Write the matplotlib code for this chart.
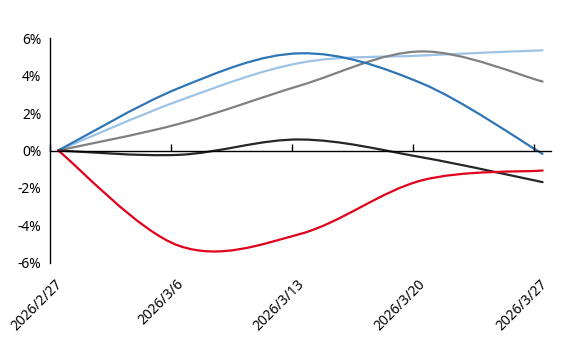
import matplotlib
matplotlib.use("Agg")
import matplotlib.pyplot as plt
import numpy as np
from matplotlib.path import Path
from matplotlib.patches import PathPatch
from matplotlib.transforms import offset_copy

plt.rcParams['font.family'] = ['Noto Sans', 'DejaVu Sans']

dates = ['2026/2/27', '2026/3/6', '2026/3/13', '2026/3/20', '2026/3/27']
days = [0, 7, 14, 21, 28]   # days since 2026/2/27

# weekly returns, %
dark_blue = [0.0, 3.35, 5.2, 3.6, -0.18]
light_blue = [0.0, 2.67, 4.69, 5.08, 5.36]
gray = [0.0, 1.43, 3.48, 5.3, 3.69]
black = [0.0, -0.23, 0.59, -0.36, -1.69]
red = [0.0, -5.1, -4.46, -1.6, -1.07]

series = [
    (light_blue, '#9DC3E6'),
    (gray, '#808080'),
    (dark_blue, '#2E75B6'),
    (black, '#262626'),
    (red, '#E0001B'),
]


def smooth_path(x, y):
    # excel-like smoothed line: cubic bezier with catmull-rom handles
    x = np.asarray(x, float)
    y = np.asarray(y, float)
    n = len(x)
    verts = [(x[0], y[0])]
    codes = [Path.MOVETO]
    for i in range(n - 1):
        p0 = i - 1 if i > 0 else i
        p3 = i + 2 if i + 2 < n else i + 1
        c1 = (x[i] + (x[i + 1] - x[p0]) / 6, y[i] + (y[i + 1] - y[p0]) / 6)
        c2 = (x[i + 1] - (x[p3] - x[i]) / 6, y[i + 1] - (y[p3] - y[i]) / 6)
        verts += [c1, c2, (x[i + 1], y[i + 1])]
        codes += [Path.CURVE4] * 3
    return Path(verts, codes)


fig = plt.figure(figsize=(5.76, 3.41), dpi=100)
ax = fig.add_axes([0.086, 0.2296, 0.871, 0.658])

for vals, col in series:
    ax.add_patch(PathPatch(smooth_path(days, vals), facecolor='none',
                           edgecolor=col, lw=1.6, capstyle='round'))

ax.set_xlim(-0.5, 28.5)
ax.set_ylim(-6, 6)
ax.set_yticks([-6, -4, -2, 0, 2, 4, 6])
ax.set_yticklabels([f'{v}%' for v in [-6, -4, -2, 0, 2, 4, 6]], fontsize=10)
ax.tick_params(axis='y', length=0, pad=6)

# x axis sits on the zero line, ticks between day categories
tick_pos = [d - 0.5 for d in days]
ax.spines['bottom'].set_position(('data', 0))
ax.set_xticks(tick_pos)
ax.set_xticklabels([])
ax.tick_params(axis='x', direction='in', length=5, width=1)
ax.spines['top'].set_visible(False)
ax.spines['right'].set_visible(False)
ax.spines['left'].set_linewidth(1)
ax.spines['bottom'].set_linewidth(1)

trans = offset_copy(ax.get_xaxis_transform(), fig=fig, x=16, y=-14, units='dots')
for p, lab in zip(tick_pos, dates):
    ax.text(p, 0, lab, transform=trans, rotation=45, ha='right', va='top',
            fontsize=10)

fig.savefig('out.png', dpi=100)
